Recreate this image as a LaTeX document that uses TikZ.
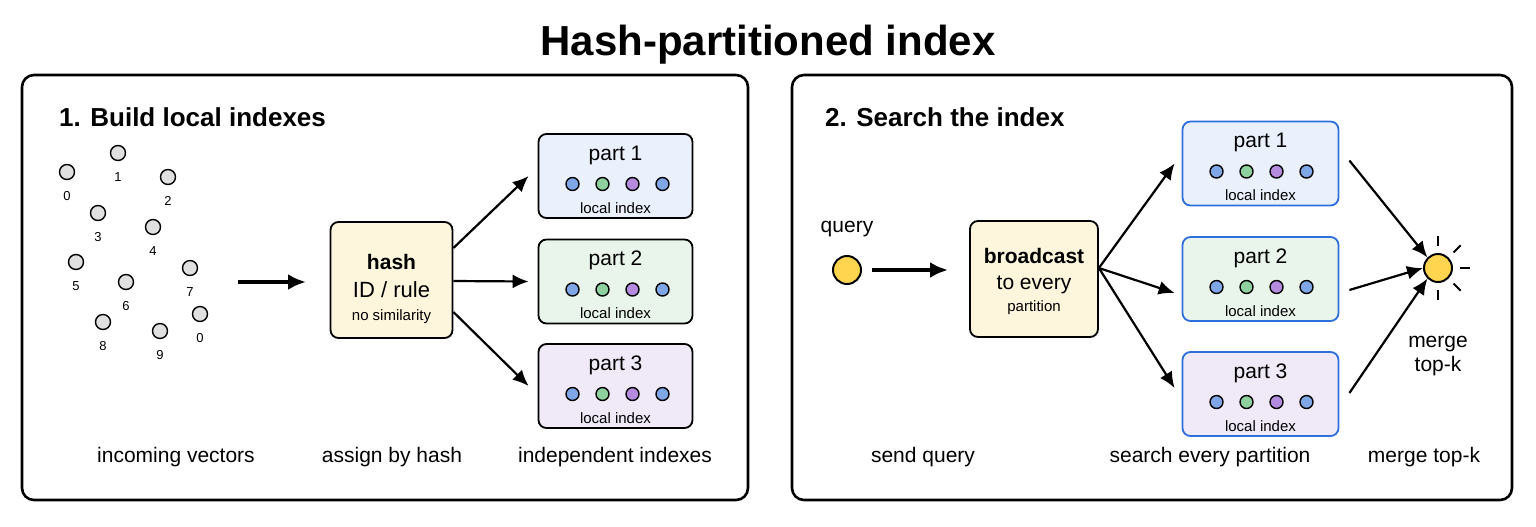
\documentclass[tikz,border=0pt]{standalone}
\usepackage{fontspec}
\setmainfont{Liberation Sans}
\usetikzlibrary{arrows.meta,positioning}
\definecolor{cream}{HTML}{FDF5DC}
\definecolor{pblue}{HTML}{EAF1FD}
\definecolor{pgreen}{HTML}{E9F5EA}
\definecolor{ppurple}{HTML}{F0EAF8}
\definecolor{dblue}{HTML}{7FA7E8}
\definecolor{dgreen}{HTML}{8FD19E}
\definecolor{dpurple}{HTML}{B58BE0}
\definecolor{qyellow}{HTML}{FFD54F}
\definecolor{edgeblue}{HTML}{2F6FDB}
\tikzset{
  panel/.style={draw, line width=1.3pt, rounded corners=6pt},
  vec/.style={circle, draw, fill=black!12, line width=0.7pt, minimum size=7.5pt, inner sep=0pt},
  vlab/.style={font=\fontsize{6.5}{7}\selectfont},
  stepbox/.style={draw, line width=0.9pt, rounded corners=4pt, fill=cream, align=center},
  part/.style={draw, line width=0.9pt, rounded corners=4pt, minimum width=77pt, minimum height=42pt},
  dot/.style={circle, draw, line width=0.7pt, minimum size=6.5pt, inner sep=0pt},
  lbl/.style={font=\fontsize{10.5}{12}\selectfont},
  small/.style={font=\fontsize{7.5}{8}\selectfont},
  arr/.style={-{Latex[length=8pt,width=7pt]}, line width=1.1pt},
  big/.style={circle, draw, fill=qyellow, line width=1pt, minimum size=14pt, inner sep=0pt}
}
\begin{document}
\begin{tikzpicture}[x=0.5pt,y=-0.5pt]
  \useasboundingbox (0,0) rectangle (1536,526);
  % title
  \node[font=\bfseries\fontsize{21}{24}\selectfont] (title) at (768,45) {Hash-partitioned index};
  % panels
  \draw[panel] (22,75) rectangle (748,500);
  \draw[panel] (792,75) rectangle (1512,500);
  \node[anchor=west, font=\bfseries\fontsize{13}{14}\selectfont] (head1) at (52,117) {1. Build local indexes};
  \node[anchor=west, font=\bfseries\fontsize{13}{14}\selectfont] (head2) at (818,117) {2. Search the index};
  %Incoming vectors
  \foreach \x/\y/\t [count=\i] in {67/172/0, 118/153/1, 168/177/2, 98/213/3, 153/227/4,
      76/262/5, 126/282/6, 190/268/7, 200/314/0, 103/322/8, 160/331/9}
    \node[vec, label={[vlab, label distance=2pt]below:\t}] (v\i) at (\x,\y) {};
  \coordinate (in0) at (238,282);
  \coordinate (in1) at (306,282);
  \draw[-{Latex[length=9pt,width=8pt]}, line width=1.8pt] (in0) -- (in1);
  %Hash step
  \node[stepbox, minimum width=61pt, minimum height=58pt] (hash) at (391.5,280) {};
  \node[font=\bfseries\fontsize{10.5}{12}\selectfont] (hashA) at (391.5,262) {hash};
  \node[font=\fontsize{11}{12}\selectfont] (hashB) at (391.5,290) {ID / rule};
  \node[small] (hashC) at (391.5,317) {no similarity};
  %Left partitions
  \foreach \n/\y/\c in {1/176/pblue, 2/281.5/pgreen, 3/386/ppurple} {
    \node[part, fill=\c] (L\n) at (615.5,\y) {};
    \node[lbl] at ([yshift=10.5pt]L\n.center) {part \n};
    \foreach \dx/\dc in {-43/dblue, -13/dgreen, 17/dpurple, 47/dblue}
      \node[dot, fill=\dc] at ([xshift=\dx*0.5pt, yshift=-4pt]L\n.center) {};
    \node[small] at ([yshift=-16pt]L\n.center) {local index};
  }
  \draw[arr] ([yshift=16pt]hash.east) -- ([xshift=-4.5pt]L1.west);
  \draw[arr] ([yshift=-0.5pt]hash.east) -- ([xshift=-4.5pt]L2.west);
  \draw[arr] ([yshift=-16pt]hash.east) -- ([xshift=-4.5pt]L3.west);
  %Bottom captions left
  \node[lbl] (c1) at (176,457) {incoming vectors};
  \node[lbl] (c2) at (392,457) {assign by hash};
  \node[lbl] (c3) at (615,457) {independent indexes};
  %Query
  \node[big] (query) at (847,270) {};
  \node[lbl] (qlab) at (847,229) {query};
  \coordinate (q1) at (948,270);
  \draw[-{Latex[length=9pt,width=8pt]}, line width=1.8pt] ([xshift=5pt]query.east) -- (q1);
  %Broadcast step
  \node[stepbox, minimum width=64pt, minimum height=58pt] (bcast) at (1034,279) {};
  \node[font=\bfseries\fontsize{10.5}{12}\selectfont] (bA) at (1034,256) {broadcast};
  \node[font=\fontsize{10.5}{12}\selectfont] (bB) at (1034,285) {to every};
  \node[small] (bC) at (1034,308) {partition};
  %Right partitions
  \foreach \n/\y/\c in {1/163.5/pblue, 2/279/pgreen, 3/394/ppurple} {
    \node[part, draw=edgeblue, fill=\c, minimum width=78pt] (R\n) at (1260.5,\y) {};
    \node[lbl] at ([yshift=10.5pt]R\n.center) {part \n};
    \foreach \dx/\dc in {-44/dblue, -14/dgreen, 16/dpurple, 46/dblue}
      \node[dot, fill=\dc] at ([xshift=\dx*0.5pt, yshift=-4pt]R\n.center) {};
    \node[small] at ([yshift=-16pt]R\n.center) {local index};
  }
  \coordinate (b0) at ([yshift=5.5pt]bcast.east);
  \draw[arr] (b0) -- ([xshift=-3.5pt]R1.west);
  \draw[arr] (b0) -- ([xshift=-3.5pt, yshift=-7pt]R2.west);
  \draw[arr] (b0) -- ([xshift=-3.5pt, yshift=3pt]R3.west);
  %Merge
  \node[big] (merge) at (1438,268) {};
  \foreach \a in {90,45,0,-45,-90}
    \draw[line width=1pt] (merge.center) ++(-\a:22) -- ++(-\a:10);
  \draw[arr] ([xshift=5pt, yshift=1.5pt]R1.east) -- (merge.north west);
  \draw[arr] ([xshift=5pt, yshift=-5.5pt]R2.east) -- (merge.west);
  \draw[arr] ([xshift=5pt, yshift=0.5pt]R3.east) -- (merge.south west);
  \node[lbl, align=center] (mlab) at (1438,356) {merge\\top-k};
  %Bottom captions right
  \node[lbl] (c4) at (923,457) {send query};
  \node[lbl] (c5) at (1210,457) {search every partition};
  \node[lbl] (c6) at (1424,457) {merge top-k};
\end{tikzpicture}
\end{document}
